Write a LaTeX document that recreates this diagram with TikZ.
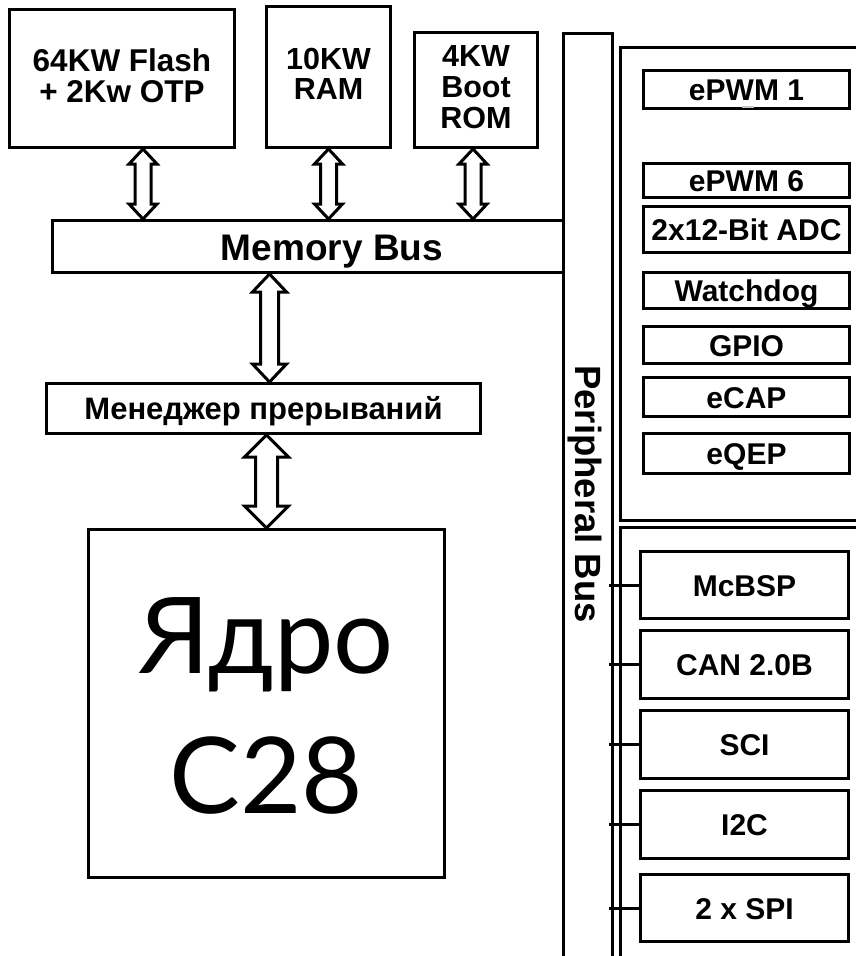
\documentclass[tikz,border=0pt]{standalone}
\usepackage{fontspec}
\usepackage{graphicx}
\setmainfont{Liberation Sans}
\newfontfamily\corefont{Lato}
\usetikzlibrary{calc}
\newcommand\wt[2][0.15em]{\raisebox{-#1}[\height][\depth]{\begin{tabular}{@{}c@{}}#2\end{tabular}}}
% #1 half shaft, #2 half head, #3 head length, #4 top tip, #5 bottom tip
\newcommand\bidir[5]{%
  \draw[dblar] (#4) -- ++(#2,#3) -- ++({-(#2-#1)},0) -- ($(#5)+(#1,-#3)$)
    -- ++({#2-#1},0) -- (#5) -- ++(-#2,-#3) -- ++({#2-#1},0)
    -- ($(#4)+(-#1,#3)$) -- ++({-(#2-#1)},0) -- cycle;}
\tikzset{
  box/.style={draw, line width=3pt, inner sep=0pt, anchor=north west,
    font=\bfseries\fontsize{30}{34}\selectfont},
  lbl/.style={inner sep=0pt},
  frameline/.style={line width=3pt},
  dblar/.style={line width=3pt, fill=white, line join=miter},
  conn/.style={line width=3pt}
}
\begin{document}
\begin{tikzpicture}[x=1pt,y=-1pt]
\useasboundingbox (0,0) rectangle (856,956);
\fill[white] (0,0) rectangle (856,956);

% memory blocks
\node[box, minimum width=225, minimum height=138, font=\bfseries\fontsize{31.5}{30}\selectfont] (flash) at (8,8) {\wt[0.04em]{64KW Flash\\+ 2Kw OTP}};
\node[box, minimum width=124, minimum height=141, font=\bfseries\fontsize{30.5}{29}\selectfont] (ram) at (265,5) {\wt[0.04em]{10KW\\RAM}};
\node[box, minimum width=123, minimum height=115, font=\bfseries\fontsize{30.5}{31}\selectfont] (boot) at (413,31) {\wt[0.04em]{4KW\\Boot\\ROM}};

% memory bus
\node[box, minimum width=511, minimum height=52] (membus) at (51,219) {};
\node[lbl, font=\bfseries\fontsize{37}{40}\selectfont] (membustxt) at ($(membus.center)+(24,0)$) {\wt{Memory Bus}};

% interrupt manager
\node[box, minimum width=434, minimum height=50, font=\bfseries\fontsize{31}{34}\selectfont] (mgr) at (45,382) {\wt{Менеджер прерываний}};

% core
\node[box, minimum width=356, minimum height=348] (core) at (87,528) {};
\node[lbl, font=\corefont\fontsize{106}{140}\selectfont] (coretxt) at ($(core.center)+(0,12)$)
  {\begin{tabular}{@{}c@{}}Ядро\\C28\end{tabular}};

% peripheral bus
\node[box, minimum width=49, minimum height=940] (pbus) at (562,32) {};
\node[rotate=-90, lbl, font=\bfseries\fontsize{36.5}{40}\selectfont] (pbtxt) at (585,494) {Peripheral Bus};

% frames
\draw[frameline] (870,47) -- (620,47) -- (620,520) -- (870,520);
\draw[frameline] (870,527) -- (620,527) -- (620,975);

% upper peripherals
\node[box, minimum width=206, minimum height=38] (epwm1) at (642,69) {\wt{ePWM 1}};
\node[box, minimum width=206, minimum height=30] (epwm6) at (642,162) {\wt{ePWM 6}};
\node[box, minimum width=206, minimum height=46] (adc) at (642,205) {\wt{2x12-Bit ADC}};
\node[box, minimum width=206, minimum height=36] (wd) at (642,271) {\wt{Watchdog}};
\node[box, minimum width=206, minimum height=37] (gpio) at (642,325) {\wt{GPIO}};
\node[box, minimum width=206, minimum height=39] (ecap) at (642,376) {\wt{eCAP}};
\node[box, minimum width=206, minimum height=40] (eqep) at (642,432) {\wt{eQEP}};
\draw[gray!45, line width=2pt] ([xshift=-5,yshift=3]epwm1.south) -- ([xshift=7,yshift=3]epwm1.south);

% lower peripherals
\node[box, minimum width=208, minimum height=67] (mcbsp) at (639,550) {\wt{McBSP}};
\node[box, minimum width=208, minimum height=68] (can) at (639,629) {\wt{CAN 2.0B}};
\node[box, minimum width=208, minimum height=68] (sci) at (639,709) {\wt{SCI}};
\node[box, minimum width=208, minimum height=68] (i2c) at (639,789) {\wt{I2C}};
\node[box, minimum width=208, minimum height=67] (spi) at (639,873) {\wt{2 x SPI}};

\foreach \b in {mcbsp,can,sci,i2c,spi}{
  \draw[conn] ([xshift=-5]\b.west -| pbus.east) -- (\b.west);
}

% bidirectional arrows
\coordinate (a1t) at ([xshift=135]flash.south west);
\bidir{8}{14}{15}{a1t}{a1t |- membus.north}
\bidir{8}{14}{15}{ram.south}{ram.south |- membus.north}
\coordinate (a3t) at ([xshift=-3]boot.south);
\bidir{8}{14}{15}{a3t}{a3t |- membus.north}
\coordinate (a4b) at ([xshift=6]mgr.north);
\bidir{9}{17}{18}{a4b |- membus.south}{a4b}
\bidir{11}{22}{22}{core.north |- mgr.south}{core.north}
\end{tikzpicture}
\end{document}
